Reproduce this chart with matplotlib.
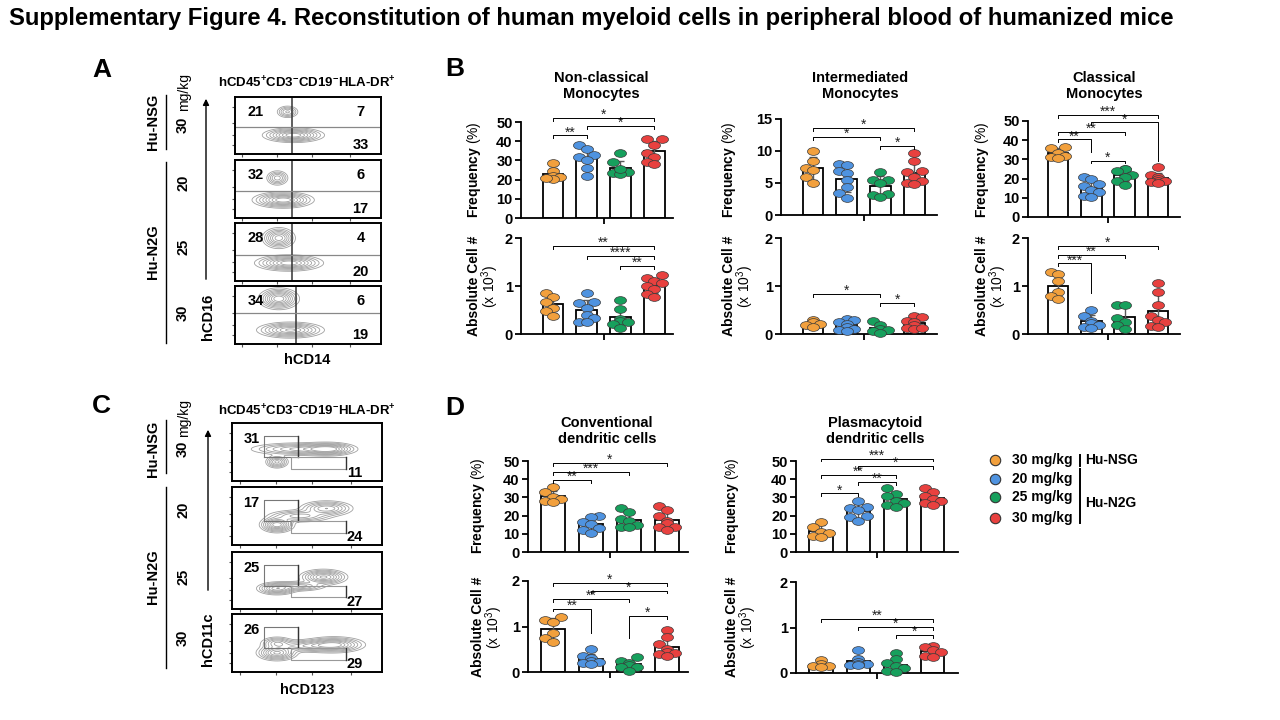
import numpy as np
import matplotlib
matplotlib.use('Agg')
import matplotlib.pyplot as plt
from matplotlib.path import Path
from matplotlib.transforms import Affine2D

plt.rcParams['font.family'] = ['Liberation Sans', 'DejaVu Sans']
plt.rcParams['mathtext.fontset'] = 'custom'
plt.rcParams['mathtext.rm'] = 'Liberation Sans:bold'
plt.rcParams['mathtext.bf'] = 'Liberation Sans:bold'
plt.rcParams['mathtext.sf'] = 'Liberation Sans'
plt.rcParams['mathtext.default'] = 'rm'

# ---- data ----
group_colors = ['#F2A03D', '#4F93E0', '#17A05D', '#E8413F']
legend_doses = ['30 mg/kg', '20 mg/kg', '25 mg/kg', '30 mg/kg']
dose_labels = ['30', '20', '25', '30']

# flow plots: quadrant / gate percentages
a_upper_left = [21, 32, 28, 34]
a_upper_right = [7, 6, 4, 6]
a_lower_right = [33, 17, 20, 19]
c_cdc = [31, 17, 25, 26]
c_pdc = [11, 24, 27, 29]

# monocytes
nc_freq = [[28.5, 24.5, 22.0, 21.5, 20.5, 21.0],
           [38.0, 36.0, 33.0, 32.0, 30.0, 26.0, 22.0],
           [34.0, 29.0, 25.0, 24.5, 24.0, 23.5, 23.0, 25.5],
           [41.0, 41.0, 38.0, 34.0, 32.0, 29.0, 28.0]]
nc_abs = [[0.85, 0.78, 0.66, 0.55, 0.47, 0.38],
          [0.86, 0.67, 0.64, 0.55, 0.40, 0.33, 0.26, 0.25],
          [0.71, 0.53, 0.31, 0.28, 0.26, 0.20, 0.12],
          [1.22, 1.17, 1.10, 1.07, 1.00, 0.93, 0.83, 0.77]]
im_freq = [[10.0, 8.5, 7.3, 7.1, 6.0, 5.0],
           [8.0, 7.8, 6.9, 6.5, 5.4, 4.3, 3.5, 2.7],
           [6.7, 5.5, 5.4, 5.0, 3.3, 3.1, 2.8],
           [9.7, 8.5, 6.9, 6.7, 6.0, 5.3, 5.0, 4.9]]
im_abs = [[0.30, 0.25, 0.20, 0.18, 0.15],
          [0.32, 0.30, 0.25, 0.20, 0.15, 0.10, 0.08, 0.07],
          [0.28, 0.18, 0.10, 0.08, 0.06, 0.02],
          [0.38, 0.35, 0.28, 0.25, 0.18, 0.12, 0.10, 0.12]]
cl_freq = [[36.5, 36.0, 33.5, 32.0, 31.0, 30.5],
           [21.0, 20.0, 17.0, 16.0, 14.0, 13.0, 11.0, 10.5],
           [25.0, 25.0, 24.0, 22.0, 21.0, 19.0, 16.5],
           [26.0, 22.0, 21.0, 20.0, 19.0, 18.5, 18.0, 17.5]]
cl_abs = [[1.30, 1.25, 1.10, 0.88, 0.80, 0.72],
          [0.50, 0.38, 0.28, 0.22, 0.18, 0.15, 0.12],
          [0.61, 0.60, 0.33, 0.25, 0.18, 0.10],
          [1.06, 0.88, 0.60, 0.38, 0.30, 0.25, 0.17, 0.15]]
# dendritic cells
cdc_freq = [[35.5, 33.0, 30.0, 29.0, 28.0, 27.5],
            [20.0, 19.5, 16.5, 15.5, 13.0, 12.0, 10.5],
            [24.0, 22.0, 18.0, 17.0, 15.0, 14.0, 13.5],
            [25.5, 23.0, 20.0, 17.0, 16.0, 14.0, 13.5, 12.0]]
cdc_abs = [[1.20, 1.15, 1.10, 0.85, 0.75, 0.65],
           [0.50, 0.35, 0.30, 0.25, 0.22, 0.20, 0.18],
           [0.32, 0.25, 0.20, 0.15, 0.12, 0.10, 0.03],
           [0.93, 0.78, 0.62, 0.50, 0.45, 0.42, 0.40, 0.35]]
pdc_freq = [[16.5, 14.0, 11.0, 10.5, 9.0, 8.5],
            [28.0, 25.0, 24.0, 23.0, 20.0, 19.0, 17.0],
            [35.0, 32.0, 31.0, 28.0, 27.0, 26.0, 25.0],
            [35.0, 33.0, 31.0, 29.0, 28.0, 27.0, 26.0]]
pdc_abs = [[0.28, 0.20, 0.16, 0.15, 0.13],
           [0.50, 0.30, 0.25, 0.20, 0.20, 0.18, 0.17],
           [0.45, 0.30, 0.22, 0.15, 0.10, 0.05, 0.03],
           [0.60, 0.58, 0.50, 0.47, 0.38, 0.36]]

# significance: (group i, group j, height, label[, left leg end, right leg end])
nc_freq_sig = [(0, 3, 52, '*'), (1, 3, 48, '*'), (0, 1, 43, '**')]
nc_abs_sig = [(0, 3, 1.83, '**'), (1, 3, 1.62, '****'), (2, 3, 1.41, '**')]
im_freq_sig = [(0, 3, 13.6, '*'), (0, 2, 12.2, '*'), (2, 3, 10.8, '*')]
im_abs_sig = [(0, 2, 0.84, '*'), (2, 3, 0.65, '*')]
cl_freq_sig = [(0, 3, 53, '***'), (1, 3, 49.3, '*', None, 29), (0, 2, 44.4, '**'),
               (0, 1, 40.4, '**', None, 34), (1, 2, 29.4, '*')]
cl_abs_sig = [(0, 3, 1.83, '*'), (0, 2, 1.65, '**'), (0, 1, 1.47, '***', None, 0.86)]
cdc_freq_sig = [(0, 3, 48.9, '*'), (0, 2, 44, '***'), (0, 1, 39.4, '**')]
cdc_abs_sig = [(0, 3, 1.96, '*'), (1, 3, 1.79, '*'), (0, 2, 1.6, '**'),
               (0, 1, 1.39, '**', None, 0.86), (2, 3, 1.23, '*', 0.75, None)]
pdc_freq_sig = [(0, 3, 51.3, '***'), (1, 3, 47.3, '*'), (0, 2, 42.3, '**'),
                (1, 2, 38.5, '**'), (0, 1, 32.2, '*')]
pdc_abs_sig = [(0, 3, 1.19, '**'), (1, 3, 1.01, '*'), (2, 3, 0.84, '*')]

# contour blobs of the flow plots (cx, cy, sx, sy, weight) in box fractions
a_blobs = [[(0.36, 0.74, 0.035, 0.05, 0.45), (0.40, 0.33, 0.09, 0.055, 1.0)],
           [(0.29, 0.69, 0.035, 0.06, 0.5), (0.33, 0.31, 0.09, 0.06, 1.0)],
           [(0.30, 0.74, 0.05, 0.08, 0.8), (0.37, 0.31, 0.10, 0.06, 1.0)],
           [(0.30, 0.78, 0.06, 0.08, 1.0), (0.38, 0.24, 0.10, 0.06, 0.9)]]
c_blobs = [[(0.30, 0.33, 0.035, 0.05, 0.6), (0.45, 0.55, 0.15, 0.05, 0.6), (0.64, 0.55, 0.08, 0.05, 0.9)],
           [(0.30, 0.35, 0.05, 0.06, 1.0), (0.45, 0.50, 0.10, 0.05, 0.5), (0.63, 0.63, 0.08, 0.06, 0.7)],
           [(0.30, 0.36, 0.06, 0.05, 0.8), (0.45, 0.40, 0.08, 0.04, 0.5), (0.61, 0.56, 0.07, 0.06, 0.9)],
           [(0.30, 0.33, 0.06, 0.06, 0.9), (0.30, 0.50, 0.05, 0.05, 0.5), (0.50, 0.45, 0.12, 0.05, 0.5), (0.68, 0.47, 0.09, 0.06, 0.9)]]

W, H = 1280, 720
fig = plt.figure(figsize=(12.8, 7.2), dpi=100)


def pax(x0, y0, x1, y1):
    # axes from pixel box (y measured from the top)
    return fig.add_axes([x0 / W, 1 - y1 / H, (x1 - x0) / W, (y1 - y0) / H])


def ftext(x, y, s, **kw):
    kw.setdefault('ha', 'center')
    kw.setdefault('va', 'center')
    fig.text(x / W, 1 - y / H, s, **kw)


def fline(xs, ys, **kw):
    fig.add_artist(plt.Line2D([x / W for x in xs], [1 - y / H for y in ys], **kw))


ellipse = Path.unit_circle().transformed(Affine2D().scale(1.55, 1.0))


def swarm(vals, ymax):
    offs = np.zeros(len(vals))
    placed = []
    for i in np.argsort(vals):
        for s in [0.0, -0.22, 0.22, -0.11, 0.11]:
            if all(abs(s - ox) >= 0.2 or abs(vals[i] - oy) > 0.07 * ymax for ox, oy in placed):
                offs[i] = s
                break
        placed.append((offs[i], vals[i]))
    return offs


def bar_panel(spine, end, top, zero, c0, step, values, ymax, yticks, sigs):
    ax = pax(spine, top, end, zero)
    x = np.arange(4)
    means = [np.mean(v) for v in values]
    sds = [np.std(v, ddof=1) for v in values]
    ax.bar(x, means, width=0.62, color='white', edgecolor='black', lw=1.3, zorder=1)
    ax.errorbar(x, means, yerr=sds, fmt='none', ecolor='#5a5a5a', elinewidth=1.0,
                capsize=3, capthick=1.0, zorder=2)
    for k, v in enumerate(values):
        v = np.array(v)
        ax.scatter(k + swarm(v, ymax), v, s=75, marker=ellipse, color=group_colors[k],
                   edgecolor='#3a3a3a', lw=0.5, zorder=3, clip_on=False)
    leg = 0.03 * ymax
    for sg in sigs:
        i, j, y, lab = sg[:4]
        yl = sg[4] if len(sg) > 4 and sg[4] is not None else y - leg
        yr = sg[5] if len(sg) > 5 and sg[5] is not None else y - leg
        ax.plot([i, i, j, j], [yl, y, y, yr], color='black', lw=0.7, clip_on=False, zorder=4)
        ax.text((i + j) / 2, y - 0.01 * ymax, lab, ha='center', va='baseline',
                fontsize=10, color='#222222', clip_on=False)
    ax.set_xlim((spine - c0) / step, (end - c0) / step)
    ax.set_ylim(0, ymax)
    ax.set_yticks(yticks)
    ax.set_yticklabels([str(t) for t in yticks], fontsize=10.5, fontweight='bold')
    ax.set_xticks([1.5])
    ax.set_xticklabels([])
    ax.tick_params(axis='both', length=4, width=1.3, pad=2)
    for s in ['top', 'right']:
        ax.spines[s].set_visible(False)
    for s in ['left', 'bottom']:
        ax.spines[s].set_linewidth(1.3)
    ax.patch.set_alpha(0)
    return ax


def freq_label(x, y):
    ftext(x, y, r'Frequency $\mathsf{(\%)}$', rotation=90, fontsize=10, fontweight='bold')


def abs_label(x, y):
    ftext(x, y, 'Absolute Cell #', rotation=90, fontsize=10, fontweight='bold')
    ftext(x + 16, y, r'$\mathsf{(x\ 10^{3})}$', rotation=90, fontsize=10)


def flow_box(x0, y0, x1, y1, blobs):
    ax = pax(x0, y0, x1, y1)
    gx, gy = np.meshgrid(np.linspace(0, 1, 200), np.linspace(0, 1, 120))
    z = np.zeros_like(gx)
    for cx, cy, sx, sy, w in blobs:
        z += w * np.exp(-((gx - cx) ** 2 / (2 * sx ** 2) + (gy - cy) ** 2 / (2 * sy ** 2)))
    ax.contour(gx, gy, z, levels=[0.06, 0.12, 0.2, 0.3, 0.42, 0.55, 0.7, 0.85],
               colors='#a0a0a0', linewidths=0.6)
    ax.set_xlim(0, 1)
    ax.set_ylim(0, 1)
    ax.set_yticks([0.16, 0.33, 0.54, 0.82])
    ax.set_xticks([0.05, 0.29, 0.53, 0.79])
    ax.tick_params(length=2, width=0.8, color='#555555', labelleft=False, labelbottom=False)
    for s in ax.spines.values():
        s.set_linewidth(1.4)
    return ax


def side_labels(tops, bots, nsg_y, n2g_y, dose_y, mg_y, arrow_x, arrow_y0, arrow_y1,
                ylab, ylab_y, xlab, xlab_y, title_y):
    ftext(153, nsg_y, 'Hu-NSG', rotation=90, fontsize=10.5, fontweight='bold')
    fline([166, 166], [tops[0], bots[0]], color='black', lw=1.0)
    ftext(153, n2g_y, 'Hu-N2G', rotation=90, fontsize=10.5, fontweight='bold')
    fline([166, 166], [tops[1], bots[1]], color='black', lw=1.0)
    for lab, yy in zip(dose_labels, dose_y):
        ftext(183, yy, lab, rotation=90, fontsize=10.5, fontweight='bold')
    ftext(184, mg_y, 'mg/kg', rotation=90, fontsize=10)
    fig.add_artist(matplotlib.patches.FancyArrowPatch(
        (arrow_x / W, 1 - arrow_y0 / H), (arrow_x / W, 1 - arrow_y1 / H),
        arrowstyle='-|>', mutation_scale=9, lw=1.0, color='black'))
    ftext(208, ylab_y, ylab, rotation=90, fontsize=10.5, fontweight='bold')
    ftext(307, xlab_y, xlab, fontsize=10.5, fontweight='bold')
    ftext(307, title_y, r'hCD45$^{+}$CD3$^{-}$CD19$^{-}$HLA-DR$^{+}$', fontsize=9.5, fontweight='bold')


# ---- title and panel letters ----
ftext(9, 18, 'Supplementary Figure 4. Reconstitution of human myeloid cells in peripheral blood of humanized mice',
      ha='left', fontsize=17.2, fontweight='bold')
for let, x, y in [('A', 102, 70), ('B', 455, 69), ('C', 101, 406), ('D', 455, 408)]:
    ftext(x, y, let, fontsize=19, fontweight='bold')

# ---- panel A ----
a_boxes = [(97, 154), (160, 218), (223, 281), (286, 344)]
a_vline = [0.39, 0.39, 0.39, 0.42]
a_hline = [0.48, 0.47, 0.45, 0.53]
for k, (y0, y1) in enumerate(a_boxes):
    ax = flow_box(235, y0, 381, y1, a_blobs[k])
    ax.axvline(a_vline[k], color='#333333', lw=1.1)
    ax.axhline(a_hline[k], color='#888888', lw=0.9)
    ax.text(0.14, 0.74, str(a_upper_left[k]), transform=ax.transAxes, ha='center', va='center',
            fontsize=10.5, fontweight='bold')
    ax.text(0.86, 0.74, str(a_upper_right[k]), transform=ax.transAxes, ha='center', va='center',
            fontsize=10.5, fontweight='bold')
    ax.text(0.86, 0.16, str(a_lower_right[k]), transform=ax.transAxes, ha='center', va='center',
            fontsize=10.5, fontweight='bold')
side_labels([95, 162], [149, 343], 122, 252, [125, 183, 247, 313], 92,
            206, 282, 96, 'hCD16', 317, 'hCD14', 360, 83)

# ---- panel C ----
c_boxes = [(423, 481), (487, 545), (552, 609), (614, 672)]
for k, (y0, y1) in enumerate(c_boxes):
    ax = flow_box(232, y0, 382, y1, c_blobs[k])
    ax.plot([0.21, 0.44, 0.44, 0.21, 0.21], [0.41, 0.41, 0.78, 0.78, 0.41], color='#777777', lw=0.8)
    ax.plot([0.44, 0.44], [0.41, 0.78], color='#333333', lw=1.0)
    ax.plot([0.76, 0.39, 0.39, 0.76], [0.21, 0.21, 0.41, 0.41], color='#999999', lw=0.8)
    ax.plot([0.76, 0.76], [0.21, 0.41], color='#333333', lw=1.0)
    ax.text(0.13, 0.72, str(c_cdc[k]), transform=ax.transAxes, ha='center', va='center',
            fontsize=10.5, fontweight='bold')
    ax.text(0.82, 0.13, str(c_pdc[k]), transform=ax.transAxes, ha='center', va='center',
            fontsize=10.5, fontweight='bold')
side_labels([420, 487], [473, 668], 449, 577, [449, 510, 577, 638], 418,
            208, 593, 427, 'hCD11c', 639, 'hCD123', 690, 411)

# ---- panel B ----
bar_panel(521, 673, 122, 218, 553, 33.7, nc_freq, 50, [0, 10, 20, 30, 40, 50], nc_freq_sig)
bar_panel(521, 673, 238, 334, 553, 33.7, nc_abs, 2, [0, 1, 2], nc_abs_sig)
bar_panel(781, 937, 119, 215, 813, 33.7, im_freq, 15, [0, 5, 10, 15], im_freq_sig)
bar_panel(781, 937, 238, 334, 813, 33.7, im_abs, 2, [0, 1, 2], im_abs_sig)
bar_panel(1028, 1180, 121, 217, 1058, 33.3, cl_freq, 50, [0, 10, 20, 30, 40, 50], cl_freq_sig)
bar_panel(1028, 1180, 238, 334, 1058, 33.3, cl_abs, 2, [0, 1, 2], cl_abs_sig)
for x, title in [(601, 'Non-classical\nMonocytes'), (860, 'Intermediated\nMonocytes'),
                 (1104, 'Classical\nMonocytes')]:
    ftext(x, 86, title, fontsize=10.5, fontweight='bold', linespacing=1.1)
for x in [474, 729, 982]:
    freq_label(x, 170)
    abs_label(x, 286)

# ---- panel D ----
bar_panel(528, 688, 461, 552, 553, 38, cdc_freq, 50, [0, 10, 20, 30, 40, 50], cdc_freq_sig)
bar_panel(528, 688, 581, 672, 553, 38, cdc_abs, 2, [0, 1, 2], cdc_abs_sig)
bar_panel(796, 958, 461, 552, 821, 37.3, pdc_freq, 50, [0, 10, 20, 30, 40, 50], pdc_freq_sig)
bar_panel(796, 958, 582, 673, 821, 37.3, pdc_abs, 2, [0, 1, 2], pdc_abs_sig)
for x, title in [(607, 'Conventional\ndendritic cells'), (875, 'Plasmacytoid\ndendritic cells')]:
    ftext(x, 431, title, fontsize=10.5, fontweight='bold', linespacing=1.1)
for x in [478, 732]:
    freq_label(x, 506)
    abs_label(x, 627)

# ---- legend ----
for k, y in enumerate([460, 479, 497, 518]):
    fig.add_artist(plt.Line2D([995 / W], [1 - y / H], marker='o', markersize=7.5,
                              markerfacecolor=group_colors[k], markeredgecolor='#333333',
                              markeredgewidth=0.8, linestyle='none'))
    ftext(1012, y, legend_doses[k], ha='left', fontsize=10, fontweight='bold')
fline([1080, 1080], [455, 466], color='black', lw=1.4)
fline([1080, 1080], [469, 523], color='black', lw=1.4)
ftext(1085, 460, 'Hu-NSG', ha='left', fontsize=10, fontweight='bold')
ftext(1085, 503, 'Hu-N2G', ha='left', fontsize=10, fontweight='bold')

fig.savefig('out.png', dpi=100)
